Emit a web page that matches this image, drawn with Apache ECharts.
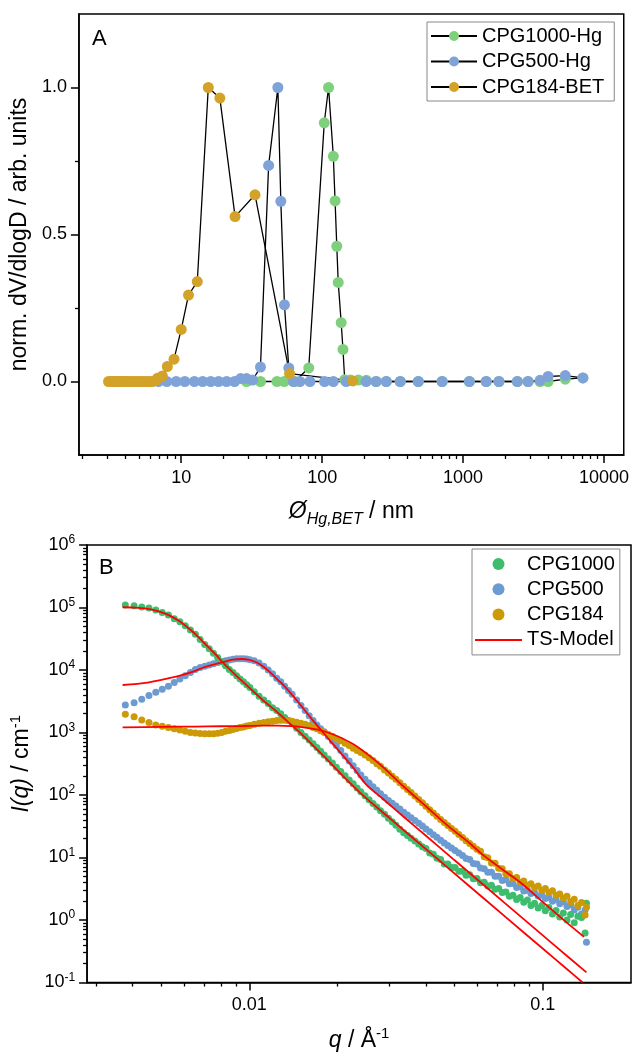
<!DOCTYPE html>
<html>
<head>
<meta charset="utf-8">
<script src="https://cdn.jsdelivr.net/npm/echarts@6/dist/echarts.min.js"></script>
<style>
  html, body { margin: 0; padding: 0; background: #fff; }
  #chart { width: 632px; height: 1053px; }
</style>
</head>
<body>
<div id="chart"></div>
<script>
// ---------- Panel A: pore size distributions (Hg intrusion / BET) ----------
const dCPG1000 = [29.1, 36.5, 47.8, 53.8, 63.8, 80.3, 103.5, 111, 120, 123.5, 127, 130, 136.5, 140.5, 144.5,
  158.6, 180.7, 205.7, 242, 285, 358, 481, 710, 1108, 1459, 1796, 2426, 2891, 3516, 4010, 5307, 7080];
const vCPG1000 = [0, 0, 0, 0, 0, 0.046, 0.88, 1.0, 0.766, 0.614, 0.46, 0.337, 0.2, 0.109, 0.006,
  0.005, 0.005, 0.004, 0, 0, 0, 0, 0, 0, 0, 0, 0, 0, 0, 0, 0.008, 0.012];

const dCPG500 = [6.9, 7.9, 9.2, 10.6, 12.4, 14.2, 16.2, 18.4, 21.0, 23.9, 26.4, 29.1, 32.1, 36.5, 41.7,
  48.5, 50.9, 54.0, 58.0, 62.5, 69.5, 81.9, 104, 120, 148, 205, 241, 285, 358, 481, 710, 1108, 1459,
  1796, 2426, 2891, 3516, 4010, 5307, 7080];
const vCPG500 = [0, 0, 0, 0, 0, 0, 0, 0, 0, 0, 0.01, 0.01, 0.005, 0.049, 0.735,
  1.0, 0.613, 0.261, 0.046, 0, 0, 0, 0, 0, 0, 0, 0, 0, 0, 0, 0, 0, 0,
  0, 0, 0, 0.004, 0.017, 0.02, 0.012];

const dCPG184 = [3.05, 3.15, 3.25, 3.35, 3.45, 3.56, 3.67, 3.79, 3.91, 4.04, 4.18, 4.33, 4.49, 4.66, 4.84,
  5.03, 5.24, 5.46, 5.7, 5.96, 6.25, 6.6, 6.78, 7.35, 7.97, 8.89, 10.0, 11.26, 13.0, 15.56, 18.8, 24.1,
  33.4, 58.7, 165];
const vCPG184 = [0, 0, 0, 0, 0, 0, 0, 0, 0, 0, 0, 0, 0, 0, 0,
  0, 0, 0, 0, 0, 0, 0.004, 0.011, 0.019, 0.051, 0.076, 0.177, 0.294, 0.34, 1.0, 0.964, 0.561,
  0.635, 0.027, 0.002];

const xMajorA = [10, 100, 1000, 10000];
const xMinorA = [2, 3, 4, 5, 6, 7, 8, 9, 20, 30, 40, 50, 60, 70, 80, 90, 200, 300, 400, 500, 600, 700, 800, 900,
  2000, 3000, 4000, 5000, 6000, 7000, 8000, 9000];
const yMajorA = [0, 0.5, 1.0];
const yMinorA = [0.25, 0.75];

// ---------- Panel B: SAXS intensities and TS-model fits ----------
const qGrid = [
  0.00378, 0.00405, 0.00430, 0.00455, 0.00480, 0.00505, 0.00530, 0.00555, 0.00580, 0.00605,
  0.00630, 0.00655, 0.00680, 0.00705, 0.00730, 0.00755, 0.00780, 0.00805, 0.00830, 0.00855,
  0.00880, 0.00905, 0.00930, 0.00955, 0.00980, 0.01005, 0.0104, 0.0108, 0.0112, 0.0116,
  0.0120, 0.0124, 0.0128, 0.0132, 0.0136, 0.0140, 0.0145, 0.0150, 0.0155, 0.0160,
  0.0165, 0.0170, 0.0175, 0.0180, 0.0186, 0.0192, 0.0198, 0.0205, 0.0212, 0.0219,
  0.0226, 0.0233, 0.0240, 0.0248, 0.0256, 0.0264, 0.0272, 0.0280, 0.0289, 0.0298,
  0.0307, 0.0316, 0.0326, 0.0336, 0.0346, 0.0356, 0.0367, 0.0378, 0.0389, 0.0400,
  0.0412, 0.0424, 0.0436, 0.0449, 0.0462, 0.0475, 0.0489, 0.0503, 0.0518, 0.0533,
  0.0548, 0.0564, 0.0580, 0.0597, 0.0614, 0.0632, 0.0650, 0.0669, 0.0688, 0.0708,
  0.0728, 0.0749, 0.0770, 0.0792, 0.0815, 0.0838, 0.0862, 0.0887, 0.0912, 0.0938,
  0.0965, 0.0993, 0.1021, 0.1050, 0.1080, 0.1111, 0.1143, 0.1176, 0.1210, 0.1245,
  0.1281, 0.1318, 0.1356, 0.1395, 0.1410];

const iCPG1000 = [
  1.10e5, 1.07e5, 1.02e5, 9.8e4, 9.1e4, 8.3e4, 7.6e4, 6.6e4, 5.9e4, 5.1e4,
  4.37e4, 3.72e4, 3.09e4, 2.57e4, 2.19e4, 1.86e4, 1.58e4, 1.35e4, 1.17e4, 1.02e4,
  9.1e3, 8.1e3, 7.2e3, 6.5e3, 5.8e3, 5.25e3, 4.5e3, 3.8e3, 3.3e3, 2.9e3,
  2.5e3, 2.24e3, 2.0e3, 1.74e3, 1.55e3, 1.38e3, 1.17e3, 1.0e3, 870, 760,
  660, 575, 500, 437, 376, 324, 279, 238, 204, 174,
  151, 130, 113, 97, 84, 73, 64, 56, 49, 42.6,
  37.2, 32.7, 28.4, 24.8, 22.4, 20.3, 18.3, 16.4, 14.9, 13.9,
  11.8, 11.3, 9.7, 9.3, 7.9, 7.9, 6.9, 6.9, 6.0, 6.0,
  5.2, 5.3, 4.55, 4.6, 3.95, 4.0, 3.5, 3.6, 3.1, 3.2,
  2.75, 2.8, 2.4, 2.5, 2.12, 2.3, 1.92, 2.08, 1.7, 1.86,
  1.55, 1.7, 1.4, 1.58, 1.25, 1.42, 1.12, 1.3, 1.0, 1.22,
  0.9, 1.15, 1.1, 0.62, 1.85];

const iCPG500 = [
  2.75e3, 3.0e3, 3.4e3, 3.9e3, 4.4e3, 4.9e3, 5.5e3, 6.3e3, 7.2e3, 8.1e3,
  9.1e3, 1.02e4, 1.10e4, 1.15e4, 1.20e4, 1.26e4, 1.32e4, 1.36e4, 1.41e4, 1.45e4,
  1.48e4, 1.51e4, 1.51e4, 1.51e4, 1.50e4, 1.46e4, 1.40e4, 1.29e4, 1.15e4, 1.0e4,
  8.7e3, 7.4e3, 6.5e3, 5.5e3, 4.7e3, 4.1e3, 3.3e3, 2.7e3, 2.24e3, 1.86e3,
  1.55e3, 1.32e3, 1.15e3, 1.03e3, 865, 728, 617, 513, 422, 351,
  294, 247, 209, 178, 155, 135, 119, 105, 92, 82,
  74, 66.7, 59.6, 53, 47.8, 43.4, 39, 35.2, 31.8, 28.7,
  25.8, 23.2, 21.0, 18.8, 17.0, 15.6, 14.2, 13.0, 11.8, 10.8,
  9.6, 9.3, 8.0, 7.9, 6.8, 6.6, 5.8, 5.8, 5.0, 5.0,
  4.3, 4.4, 3.8, 3.85, 3.3, 3.4, 2.92, 3.0, 2.65, 2.75,
  2.42, 2.52, 2.2, 2.3, 2.0, 2.12, 1.82, 1.95, 1.64, 1.75,
  1.45, 1.6, 1.25, 1.45, 0.44];

const iCPG184 = [
  1.95e3, 1.78e3, 1.58e3, 1.45e3, 1.32e3, 1.26e3, 1.20e3, 1.15e3, 1.10e3, 1.05e3,
  1.0e3, 980, 966, 955, 955, 955, 977, 1.0e3, 1.05e3, 1.08e3,
  1.12e3, 1.16e3, 1.20e3, 1.23e3, 1.27e3, 1.30e3, 1.35e3, 1.40e3, 1.45e3, 1.48e3,
  1.51e3, 1.55e3, 1.57e3, 1.57e3, 1.55e3, 1.51e3, 1.46e3, 1.41e3, 1.35e3, 1.29e3,
  1.20e3, 1.15e3, 1.07e3, 1.0e3, 933, 871, 794, 741, 676, 617,
  562, 513, 479, 437, 394, 355, 316, 288, 251, 224,
  200, 178, 157, 138, 123, 110, 96.6, 85.1, 75, 66,
  58.2, 51.3, 45.7, 40.7, 36.3, 32.4, 29.2, 26.3, 23.4, 20.9,
  18.6, 16.8, 15.1, 13.5, 12.6, 10.3, 9.9, 8.2, 8.1, 6.7,
  6.6, 5.5, 5.5, 4.6, 4.8, 4.0, 4.2, 3.6, 3.8, 3.3,
  3.5, 3.0, 3.2, 2.75, 2.95, 2.5, 2.6, 2.25, 2.4, 1.95,
  2.15, 1.7, 1.9, 1.2, 1.6];

// TS-model curves
const qFit1000 = [0.0037, 0.0042, 0.0047, 0.0052, 0.0057, 0.0062, 0.0067, 0.0072, 0.0077, 0.0082, 0.0088,
  0.0095, 0.0103, 0.0112, 0.0122, 0.0134, 0.0148, 0.0165, 0.0185, 0.0210, 0.0244, 0.030, 0.040, 0.055,
  0.075, 0.100, 0.120, 0.1368];
const iFit1000 = [1.01e5, 9.9e4, 9.2e4, 7.9e4, 6.3e4, 4.7e4, 3.4e4, 2.4e4, 1.74e4, 1.26e4, 9.1e3,
  6.5e3, 4.6e3, 3.2e3, 2.3e3, 1.55e3, 1.02e3, 617, 363, 195, 98.6, 43.1, 13.6, 3.81,
  1.10, 0.35, 0.169, 0.100];

const qFit500 = [0.0037, 0.0045, 0.0052, 0.0058, 0.0064, 0.0070, 0.0076, 0.0082, 0.0088, 0.0094, 0.0100,
  0.0106, 0.0112, 0.0118, 0.0124, 0.0130, 0.0140, 0.0150, 0.0165, 0.0180, 0.0200, 0.0225, 0.0250,
  0.0285, 0.0335, 0.040, 0.050, 0.065, 0.085, 0.110, 0.141];
const iFit500 = [5.75e3, 6.3e3, 7.2e3, 8.1e3, 9.3e3, 1.1e4, 1.23e4, 1.35e4, 1.46e4, 1.50e4, 1.45e4,
  1.32e4, 1.12e4, 9.1e3, 7.2e3, 5.9e3, 4.0e3, 2.7e3, 1.55e3, 955, 537, 282, 148,
  87, 45.3, 22.3, 9.1, 3.19, 1.09, 0.389, 0.145];

const qFit184 = [0.0037, 0.0050, 0.0065, 0.0080, 0.0095, 0.0110, 0.0125, 0.0140, 0.0155, 0.0170, 0.0185,
  0.0200, 0.0225, 0.0250, 0.0285, 0.0335, 0.040, 0.048, 0.056, 0.063, 0.070, 0.0775, 0.086, 0.100,
  0.120, 0.1383];
const iFit184 = [1.21e3, 1.23e3, 1.245e3, 1.26e3, 1.27e3, 1.29e3, 1.29e3, 1.26e3, 1.20e3, 1.12e3, 1.0e3,
  871, 661, 468, 282, 138, 66, 30.9, 17.4, 10.7, 7.41, 5.25, 3.63, 1.95,
  0.933, 0.537];

const xMajorB = [0.01, 0.1];
const xMinorB = [0.003, 0.004, 0.005, 0.006, 0.007, 0.008, 0.009, 0.02, 0.03, 0.04, 0.05, 0.06, 0.07, 0.08, 0.09];
const yMajorB = [0.1, 1, 10, 100, 1000, 10000, 100000, 1000000];
const yMinorB = [];
for (const dec of [0.1, 1, 10, 100, 1000, 10000, 100000]) {
  for (let k = 2; k <= 9; k++) yMinorB.push(+(k * dec).toPrecision(3));
}

// ---------- drawing ----------
const FONT = 'Arial, "Liberation Sans", Helvetica, sans-serif';
const colA = { g: '#7fd07d', b: '#7fa3d9', y: '#d2a229' };
const colB = { g: '#3dbd6d', b: '#6b9bd1', y: '#cc9a06', fit: '#ff0000' };
const pairs = (xs, ys) => xs.map((x, i) => [x, ys[i]]);
const axisLineStyle = { color: '#000', width: 1.5 };

function majorAxis(extra) {
  return Object.assign({
    axisLine: { show: true, onZero: false, lineStyle: axisLineStyle },
    splitLine: { show: false },
    axisLabel: { fontSize: 18, color: '#000', fontFamily: FONT, margin: 12 },
    axisTick: { length: 8, lineStyle: axisLineStyle }
  }, extra);
}
function minorAxis(extra, ticks) {
  return Object.assign({
    axisLine: { show: false, onZero: false },
    splitLine: { show: false },
    axisLabel: { show: false },
    axisTick: { length: 4, customValues: ticks, lineStyle: { color: '#000', width: 1.3 } }
  }, extra);
}

const supRich = {
  b: { fontSize: 18, lineHeight: 22, fontFamily: FONT, color: '#000' },
  s: { fontSize: 12, lineHeight: 12, verticalAlign: 'top', fontFamily: FONT, color: '#000' }
};
const TITLE = 23;

const chart = echarts.init(document.getElementById('chart'), null, { renderer: 'canvas' });

const option = {
  animation: false,
  backgroundColor: '#fff',
  textStyle: { fontFamily: FONT },
  grid: [
    { left: 77, top: 14, width: 548, height: 441, show: true, borderColor: '#000', borderWidth: 1.5 },
    { left: 86, top: 545, width: 545, height: 438, show: true, borderColor: '#000', borderWidth: 1.5 }
  ],
  xAxis: [
    majorAxis({
      type: 'log', gridIndex: 0, position: 'bottom', min: 1.88, max: 13800,
      axisTick: { length: 8, customValues: xMajorA, lineStyle: axisLineStyle },
      axisLabel: { fontSize: 18, color: '#000', fontFamily: FONT, margin: 14, customValues: xMajorA,
        formatter: v => String(Math.round(v)) },
      name: '{i|Ø}{sub|Hg,BET}{n| / nm}', nameLocation: 'middle', nameGap: 41,
      nameTextStyle: { fontSize: TITLE, color: '#000', fontFamily: FONT,
        rich: {
          i: { fontSize: TITLE, fontStyle: 'italic', lineHeight: 32, fontFamily: FONT, color: '#000' },
          sub: { fontSize: 16, fontStyle: 'italic', lineHeight: 16, verticalAlign: 'bottom', fontFamily: FONT, color: '#000' },
          n: { fontSize: TITLE, lineHeight: 32, fontFamily: FONT, color: '#000' }
        } }
    }),
    minorAxis({ type: 'log', gridIndex: 0, position: 'bottom', min: 1.88, max: 13800 }, xMinorA),
    majorAxis({
      type: 'log', gridIndex: 1, position: 'bottom', min: 0.0028, max: 0.2,
      axisTick: { length: 8, customValues: xMajorB, lineStyle: axisLineStyle },
      axisLabel: { fontSize: 18, color: '#000', fontFamily: FONT, margin: 14, customValues: xMajorB,
        formatter: v => (Math.abs(v - 0.01) < 1e-6 ? '0.01' : '0.1') },
      name: '{i|q}{n| / Å}{s|-1}', nameLocation: 'middle', nameGap: 44,
      nameTextStyle: { fontSize: TITLE, color: '#000', fontFamily: FONT,
        rich: {
          i: { fontSize: TITLE, fontStyle: 'italic', lineHeight: 28, fontFamily: FONT, color: '#000' },
          n: { fontSize: TITLE, lineHeight: 28, fontFamily: FONT, color: '#000' },
          s: { fontSize: 15, lineHeight: 15, verticalAlign: 'top', fontFamily: FONT, color: '#000' }
        } }
    }),
    minorAxis({ type: 'log', gridIndex: 1, position: 'bottom', min: 0.0028, max: 0.2 }, xMinorB)
  ],
  yAxis: [
    majorAxis({
      type: 'value', gridIndex: 0, position: 'left', min: -0.25, max: 1.25, interval: 0.25,
      axisTick: { length: 8, customValues: yMajorA, lineStyle: axisLineStyle },
      axisLabel: { fontSize: 18, color: '#000', fontFamily: FONT, margin: 12, customValues: yMajorA,
        formatter: v => v.toFixed(1) },
      name: 'norm. dV/dlogD / arb. units', nameLocation: 'middle', nameGap: 45,
      nameTextStyle: { fontSize: TITLE, color: '#000', fontFamily: FONT }
    }),
    minorAxis({ type: 'value', gridIndex: 0, position: 'left', min: -0.25, max: 1.25, interval: 0.25 }, yMinorA),
    majorAxis({
      type: 'log', gridIndex: 1, position: 'left', min: 0.1, max: 1e6,
      axisTick: { length: 8, customValues: yMajorB, lineStyle: axisLineStyle },
      axisLabel: { margin: 12, customValues: yMajorB, rich: supRich,
        formatter: v => '{b|10}{s|' + Math.round(Math.log10(v)) + '}' },
      name: '{i|I(q)}{n| / cm}{s|-1}', nameLocation: 'middle', nameGap: 49,
      nameTextStyle: { fontSize: TITLE, color: '#000', fontFamily: FONT,
        rich: {
          i: { fontSize: TITLE, fontStyle: 'italic', lineHeight: 28, fontFamily: FONT, color: '#000' },
          n: { fontSize: TITLE, lineHeight: 28, fontFamily: FONT, color: '#000' },
          s: { fontSize: 15, lineHeight: 15, verticalAlign: 'top', fontFamily: FONT, color: '#000' }
        } }
    }),
    minorAxis({ type: 'log', gridIndex: 1, position: 'left', min: 0.1, max: 1e6 }, yMinorB)
  ],
  legend: [
    {
      left: 427, top: 22, orient: 'vertical', selectedMode: false,
      data: ['CPG1000-Hg', 'CPG500-Hg', 'CPG184-BET'],
      itemWidth: 46, itemHeight: 12.5, itemGap: 5.5, padding: [4, 10, 4, 3],
      borderColor: '#888', borderWidth: 1,
      textStyle: { fontSize: 20, color: '#000', fontFamily: FONT }
    },
    {
      left: 472, top: 549, orient: 'vertical', selectedMode: false,
      data: [
        { name: 'CPG1000', icon: 'circle' },
        { name: 'CPG500', icon: 'circle' },
        { name: 'CPG184', icon: 'circle' },
        { name: 'TS-Model', icon: 'path://M0 0H48V2H0Z' }
      ],
      itemWidth: 47, itemHeight: 12, itemGap: 5.3, padding: [5, 5, 5, 3],
      borderColor: '#888', borderWidth: 1,
      textStyle: { fontSize: 20, color: '#000', fontFamily: FONT }
    }
  ],
  graphic: [
    { type: 'text', left: 92, top: 28, style: { text: 'A', fontSize: 22, fill: '#000', fontFamily: FONT } },
    { type: 'text', left: 99, top: 557, style: { text: 'B', fontSize: 22, fill: '#000', fontFamily: FONT } }
  ],
  series: [
    // Panel A
    { type: 'line', name: 'CPG1000-Hg', xAxisIndex: 0, yAxisIndex: 0, data: pairs(dCPG1000, vCPG1000),
      symbol: 'circle', symbolSize: 11, itemStyle: { color: colA.g }, lineStyle: { color: '#000', width: 1.3 } },
    { type: 'line', name: 'CPG500-Hg', xAxisIndex: 0, yAxisIndex: 0, data: pairs(dCPG500, vCPG500),
      symbol: 'circle', symbolSize: 11, itemStyle: { color: colA.b }, lineStyle: { color: '#000', width: 1.3 } },
    { type: 'line', name: 'CPG184-BET', xAxisIndex: 0, yAxisIndex: 0, data: pairs(dCPG184, vCPG184),
      symbol: 'circle', symbolSize: 11, itemStyle: { color: colA.y }, lineStyle: { color: '#000', width: 1.3 } },
    // Panel B
    { type: 'scatter', name: 'CPG500', xAxisIndex: 2, yAxisIndex: 2, data: pairs(qGrid, iCPG500),
      symbolSize: 7, itemStyle: { color: colB.b, opacity: 1 } },
    { type: 'scatter', name: 'CPG1000', xAxisIndex: 2, yAxisIndex: 2, data: pairs(qGrid, iCPG1000),
      symbolSize: 7, itemStyle: { color: colB.g, opacity: 1 } },
    { type: 'scatter', name: 'CPG184', xAxisIndex: 2, yAxisIndex: 2, data: pairs(qGrid, iCPG184),
      symbolSize: 7, itemStyle: { color: colB.y, opacity: 1 } },
    { type: 'line', name: 'TS-Model', xAxisIndex: 2, yAxisIndex: 2, data: pairs(qFit1000, iFit1000),
      symbol: 'none', smooth: 0.3, itemStyle: { color: colB.fit }, lineStyle: { color: colB.fit, width: 1.8 }, z: 5 },
    { type: 'line', name: 'TS-Model', xAxisIndex: 2, yAxisIndex: 2, data: pairs(qFit500, iFit500),
      symbol: 'none', smooth: 0.3, itemStyle: { color: colB.fit }, lineStyle: { color: colB.fit, width: 1.8 }, z: 5 },
    { type: 'line', name: 'TS-Model', xAxisIndex: 2, yAxisIndex: 2, data: pairs(qFit184, iFit184),
      symbol: 'none', smooth: 0.3, itemStyle: { color: colB.fit }, lineStyle: { color: colB.fit, width: 1.8 }, z: 5 }
  ]
};

chart.setOption(option);
</script>
</body>
</html>
